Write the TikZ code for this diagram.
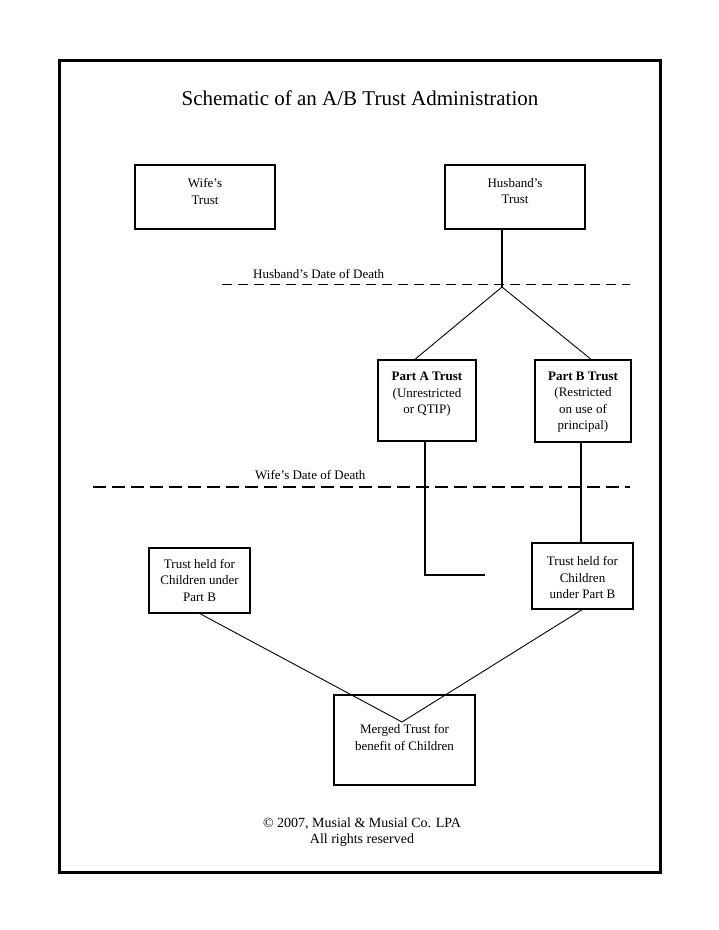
\documentclass[tikz,border=0pt]{standalone}
\usepackage{fontspec}
\setmainfont{Liberation Serif}
\begin{document}
\begin{tikzpicture}[x=1pt,y=-1pt,
  box/.style={draw, line width=1.4pt, inner sep=0pt},
  txt/.style={align=center, inner sep=0pt, font=\fontsize{13}{16.5}\selectfont},
  conn/.style={line width=1.8pt},
  diag/.style={line width=0.9pt},
  hdash/.style={line width=1pt, dash pattern=on 10pt off 6pt},
  wdash/.style={line width=2pt, dash pattern=on 13pt off 6pt}]
\useasboundingbox (0,0) rectangle (719,930);
\node[draw, line width=3pt, minimum width=601pt, minimum height=812pt, inner sep=0pt] (frame) at (359.5,466) {};
\node[inner sep=0pt, font=\fontsize{21}{24}\selectfont] (title) at (360,98) {Schematic of an A/B Trust Administration};

% top boxes
\node[box, minimum width=140pt, minimum height=64pt] (wife) at (205,197) {};
\node[txt] (wifet) at (205,191.5) {Wife's\\Trust};
\node[box, minimum width=140pt, minimum height=64pt] (husb) at (515,197) {};
\node[txt] (husbt) at (515,191) {Husband's\\Trust};

% husband's date of death
\coordinate (hd1) at (222,284);
\coordinate (hd2) at (630,284);
\draw[hdash] (hd1) -- (hd2);
\node[txt, anchor=base west] (hdl) at (253,278) {Husband's Date of Death};
\coordinate (split) at (502,287);
\draw[conn] (husb.south -| split) -- (split);

% Part A / Part B
\node[box, minimum width=98pt, minimum height=81pt] (partA) at (427,400.5) {};
\node[txt] (partAt) at (427,394.5) {\textbf{Part A Trust}\\(Unrestricted\\or QTIP)};
\node[box, minimum width=96pt, minimum height=82pt] (partB) at (583,401) {};
\node[txt] (partBt) at (583,402) {\textbf{Part B Trust}\\(Restricted\\on use of\\principal)};
\draw[diag] (split) -- (partA.north -| 415,0);
\draw[diag] (split) -- (partB.north -| 591,0);

% wife's date of death
\coordinate (wd1) at (93,487);
\coordinate (wd2) at (630,487);
\draw[wdash] (wd1) -- (wd2);
\node[txt, anchor=base west] (wdl) at (255,479) {Wife's Date of Death};

% lower boxes
\coordinate (aend) at (485,575);
\draw[conn] (partA.south -| 425,0) |- (aend);
\node[box, minimum width=101pt, minimum height=66pt] (tright) at (582.5,576) {};
\node[txt] (trightt) at (582.5,577.5) {Trust held for\\Children\\under Part B};
\draw[conn] (partB.south -| 581,0) -- (tright.north -| 581,0);
\node[box, minimum width=101pt, minimum height=65pt] (tleft) at (199.5,580.5) {};
\node[txt] (tleftt) at (199.5,580) {Trust held for\\Children under\\Part B};

\node[box, minimum width=141pt, minimum height=90pt] (merged) at (404.5,740) {};
\node[txt] (mergedt) at (404.5,737.5) {Merged Trust for\\benefit of Children};
\coordinate (meet) at (402,722);
\draw[diag] (tleft.south -| 200,0) -- (meet);
\draw[diag] (tright.south -| 582,0) -- (meet);

\node[align=center, inner sep=0pt, font=\fontsize{14}{16.5}\selectfont] (copy) at (362,832) {© 2007, Musial \& Musial Co. LPA\\All rights reserved};
\end{tikzpicture}
\end{document}
